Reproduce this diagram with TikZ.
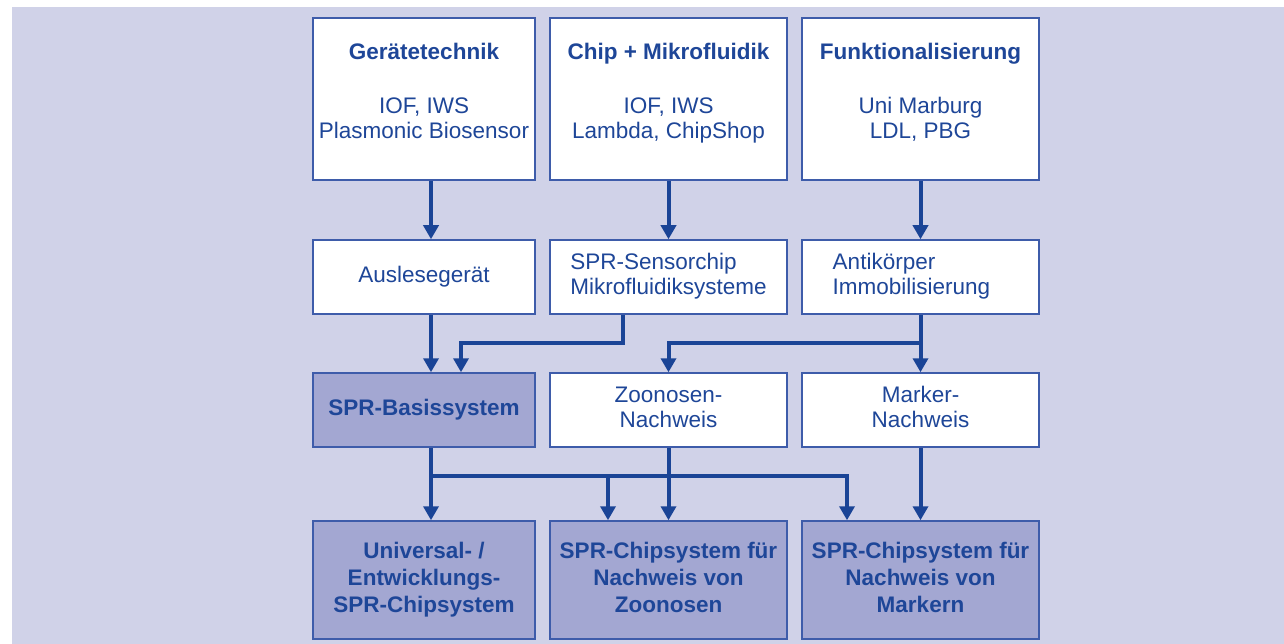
\documentclass[tikz,border=0pt]{standalone}
\usepackage{fontspec}
\setmainfont{Liberation Sans}
\usetikzlibrary{arrows.meta}

\definecolor{hgblau}{RGB}{208,210,232}
\definecolor{boxdunkel}{RGB}{163,167,210}
\definecolor{rahmen}{RGB}{62,92,170}
\definecolor{schrift}{RGB}{30,70,152}
\definecolor{pfeilblau}{RGB}{26,68,150}

\tikzset{
  kasten/.style={draw=rahmen, line width=1.5pt, fill=white, inner sep=0pt,
    text=schrift, align=center, font=\fontsize{22.5}{25.5}\selectfont},
  dunkel/.style={kasten, fill=boxdunkel, font=\fontsize{22.5}{25.5}\selectfont\bfseries},
  titel/.style={text=schrift, align=center, inner sep=0pt, font=\fontsize{22.5}{25.5}\selectfont},
  pfeil/.style={draw=pfeilblau, line width=4pt, -{Triangle[width=15pt,length=14pt]}}
}

\begin{document}
\begin{tikzpicture}[x=1pt,y=-1pt]
\useasboundingbox (0,0) rectangle (1284,644);
%Hintergrund
\fill[white] (0,0) rectangle (1284,644);
\fill[hgblau] (12,7) rectangle (1284,644);

%erste Reihe: Partner
\node[kasten, minimum width=222pt, minimum height=162pt] (geraet) at (424,99) {};
\node[kasten, minimum width=237pt, minimum height=162pt] (chip) at (668.5,99) {};
\node[kasten, minimum width=237pt, minimum height=162pt] (funkt) at (920.5,99) {};
\node[titel] (geraetT) at ([yshift=5pt]geraet.center)
  {\textbf{Gerätetechnik}\strut\\[28.5pt] IOF, IWS\\ Plasmonic Biosensor\strut};
\node[titel] (chipT) at ([yshift=5pt]chip.center)
  {\textbf{Chip + Mikrofluidik}\strut\\[28.5pt] IOF, IWS\\ Lambda, ChipShop\strut};
\node[titel] (funktT) at ([yshift=5pt]funkt.center)
  {\textbf{Funktionalisierung}\strut\\[28.5pt] Uni Marburg\\ LDL, PBG\strut};

%zweite Reihe
\node[kasten, minimum width=222pt, minimum height=74pt] (ausles) at (424,277) {Auslesegerät\strut};
\node[kasten, minimum width=237pt, minimum height=74pt, align=left] (sensor) at (668.5,277)
  {SPR-Sensorchip\strut\\ Mikrofluidiksysteme\strut};
\node[kasten, minimum width=237pt, minimum height=74pt, align=left] (anti) at (920.5,277)
  {Antikörper\strut\\ Immobilisierung\strut\hspace*{18pt}};

%dritte Reihe
\node[dunkel, minimum width=222pt, minimum height=74pt] (basis) at (424,410) {SPR-Basissystem\strut};
\node[kasten, minimum width=237pt, minimum height=74pt] (zoon) at (668.5,410)
  {Zoonosen-\strut\\ Nachweis\strut};
\node[kasten, minimum width=237pt, minimum height=74pt] (marker) at (920.5,410)
  {Marker-\strut\\ Nachweis\strut};

%vierte Reihe: Systeme
\node[dunkel, minimum width=222pt, minimum height=118pt] (univ) at (424,580)
  {Universal- /\strut\\[1.5pt] Entwicklungs-\\[1.5pt] SPR-Chipsystem\strut};
\node[dunkel, minimum width=237pt, minimum height=118pt] (chipzoon) at (668.5,580)
  {SPR-Chipsystem für\strut\\[1.5pt] Nachweis von\\[1.5pt] Zoonosen\strut};
\node[dunkel, minimum width=237pt, minimum height=118pt] (chipmark) at (920.5,580)
  {SPR-Chipsystem für\strut\\[1.5pt] Nachweis von\\[1.5pt] Markern\strut};

%Knickpunkte
\coordinate (knickA) at (623,343);
\coordinate (knickB) at (461,343);
\coordinate (knickC) at (668.5,343);
\coordinate (knickD) at (431,476);
\coordinate (knickE) at (847,476);
\coordinate (knickF) at (608,476);

%Pfeile erste zur zweiten Reihe
\draw[pfeil] ([xshift=7pt]geraet.south) -- ([xshift=7pt]ausles.north);
\draw[pfeil] (chip.south) -- (sensor.north);
\draw[pfeil] (funkt.south) -- (anti.north);

%Pfeile zweite zur dritten Reihe
\draw[pfeil] ([xshift=7pt]ausles.south) -- ([xshift=7pt]basis.north);
\draw[pfeil] (sensor.south -| knickA) -- (knickA) -- (knickB) -- (basis.north -| knickB);
\draw[pfeil] (anti.south) -- (marker.north);
\draw[pfeil] (anti.south |- knickC) -- (knickC) -- (zoon.north);

%Pfeile dritte zur vierten Reihe
\draw[pfeil] (basis.south -| knickD) -- (univ.north -| knickD);
\draw[pfeil] (knickD) -- (knickE) -- (chipmark.north -| knickE);
\draw[pfeil] (knickF) -- (chipzoon.north -| knickF);
\draw[pfeil] (zoon.south) -- (chipzoon.north);
\draw[pfeil] (marker.south) -- (chipmark.north);
\end{tikzpicture}
\end{document}
